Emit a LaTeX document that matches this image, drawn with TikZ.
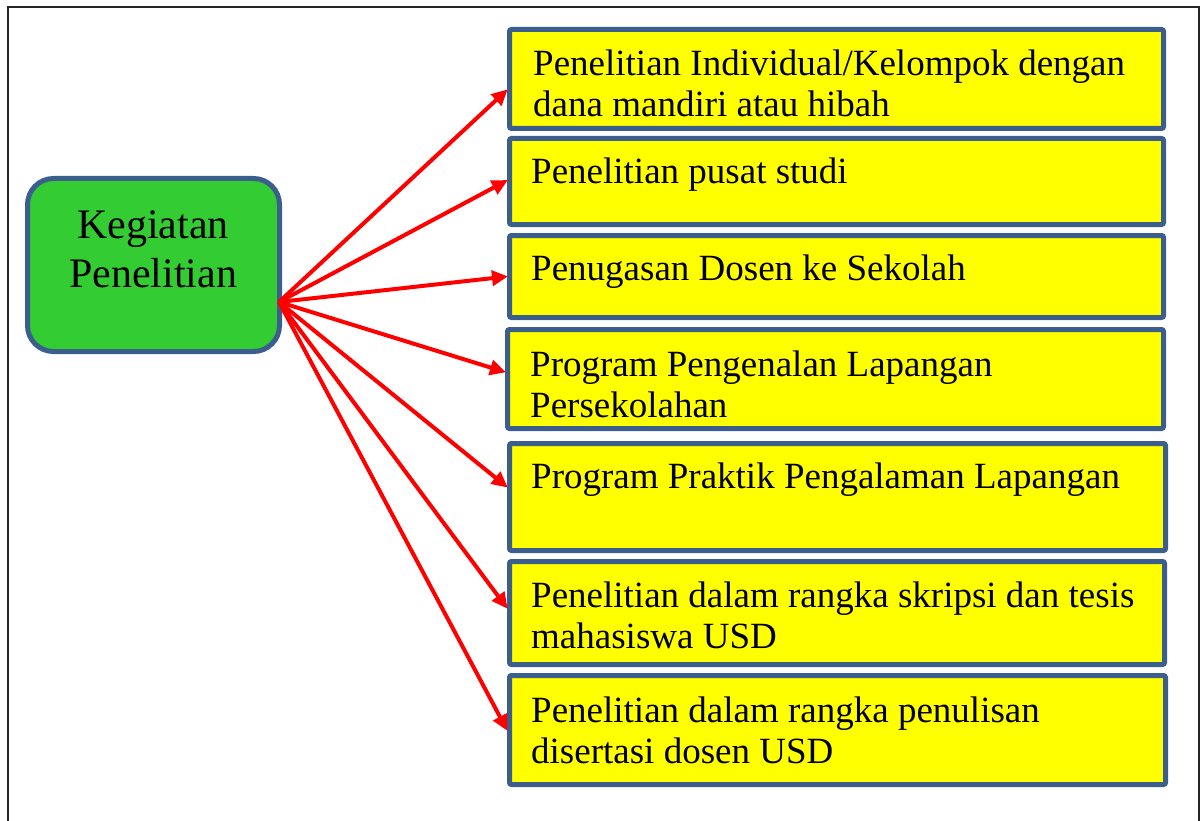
\documentclass[tikz,border=0pt]{standalone}
\usepackage{fontspec}
\setmainfont{Liberation Serif}
\usetikzlibrary{arrows.meta,calc}
\definecolor{bordblue}{HTML}{3B5E8C}
\definecolor{boxgreen}{HTML}{33CC33}
\definecolor{boxyellow}{HTML}{FFFF00}
\tikzset{
  ybox/.style={draw=bordblue, line width=5pt, fill=boxyellow, rounded corners=2pt, inner sep=0pt},
  ytext/.style={anchor=base west, align=left, inner sep=0pt, font=\fontsize{37}{41}\selectfont},
  gbox/.style={draw=bordblue, line width=5pt, fill=boxgreen, rounded corners=26pt, inner sep=0pt},
  gtext/.style={anchor=base, align=center, inner sep=0pt, font=\fontsize{42}{49}\selectfont},
  link/.style={draw=red, line width=4pt, -{Triangle[length=16pt,width=15pt]}, shorten >=-1pt}
}
\begin{document}
\begin{tikzpicture}[x=1pt,y=-1pt]
\useasboundingbox (0,0) rectangle (1201,821);
\clip (0,0) rectangle (1201,821);
% outer frame
\draw[line width=1.6pt, black!85] (8,840) -- (8,7) -- (1199,7) -- (1199,840);
% green box
\node[gbox, minimum width=252pt, minimum height=173pt] (g) at (153.5,265) {};
\node[gtext] (gt) at (153,287) {Kegiatan\\Penelitian};
% yellow boxes
\node[ybox, minimum width=654pt, minimum height=99pt]  (b1) at (836.5,79) {};
\node[ybox, minimum width=654pt, minimum height=86pt]  (b2) at (836.5,181.5) {};
\node[ybox, minimum width=654pt, minimum height=82pt]  (b3) at (836.5,276.5) {};
\node[ybox, minimum width=656pt, minimum height=99pt]  (b4) at (835.5,379) {};
\node[ybox, minimum width=656pt, minimum height=107pt] (b5) at (837.5,497) {};
\node[ybox, minimum width=655pt, minimum height=103pt] (b6) at (837,613) {};
\node[ybox, minimum width=656pt, minimum height=109pt] (b7) at (837.5,730) {};
% texts (anchor = baseline of last line)
\node[ytext] (t1) at (533,117) {Penelitian Individual/Kelompok dengan\\dana mandiri atau hibah};
\node[ytext] (t2) at (531,184) {Penelitian pusat studi};
\node[ytext] (t3) at (531,280) {Penugasan Dosen ke Sekolah};
\node[ytext] (t4) at (530,417) {Program Pengenalan Lapangan\\Persekolahan};
\node[ytext] (t5) at (531,488) {Program Praktik Pengalaman Lapangan};
\node[ytext] (t6) at (531,648) {Penelitian dalam rangka skripsi dan tesis\\mahasiswa USD};
\node[ytext] (t7) at (531,763) {Penelitian dalam rangka penulisan\\disertasi dosen USD};
% arrows
\coordinate (src) at (279,302);
\draw[link] (src) -- ($(b1.west)+(0,11)$);
\draw[link] (src) -- ($(b2.west)+(0,-1)$);
\draw[link] (src) -- (b3.west);
\draw[link] (src) -- ($(b4.west)+(0,-7)$);
\draw[link] (src) -- ($(b5.west)+(0,-10)$);
\draw[link] (src) -- ($(b6.west)+(0,-5)$);
\draw[link] (src) -- (b7.west);
\end{tikzpicture}
\end{document}
